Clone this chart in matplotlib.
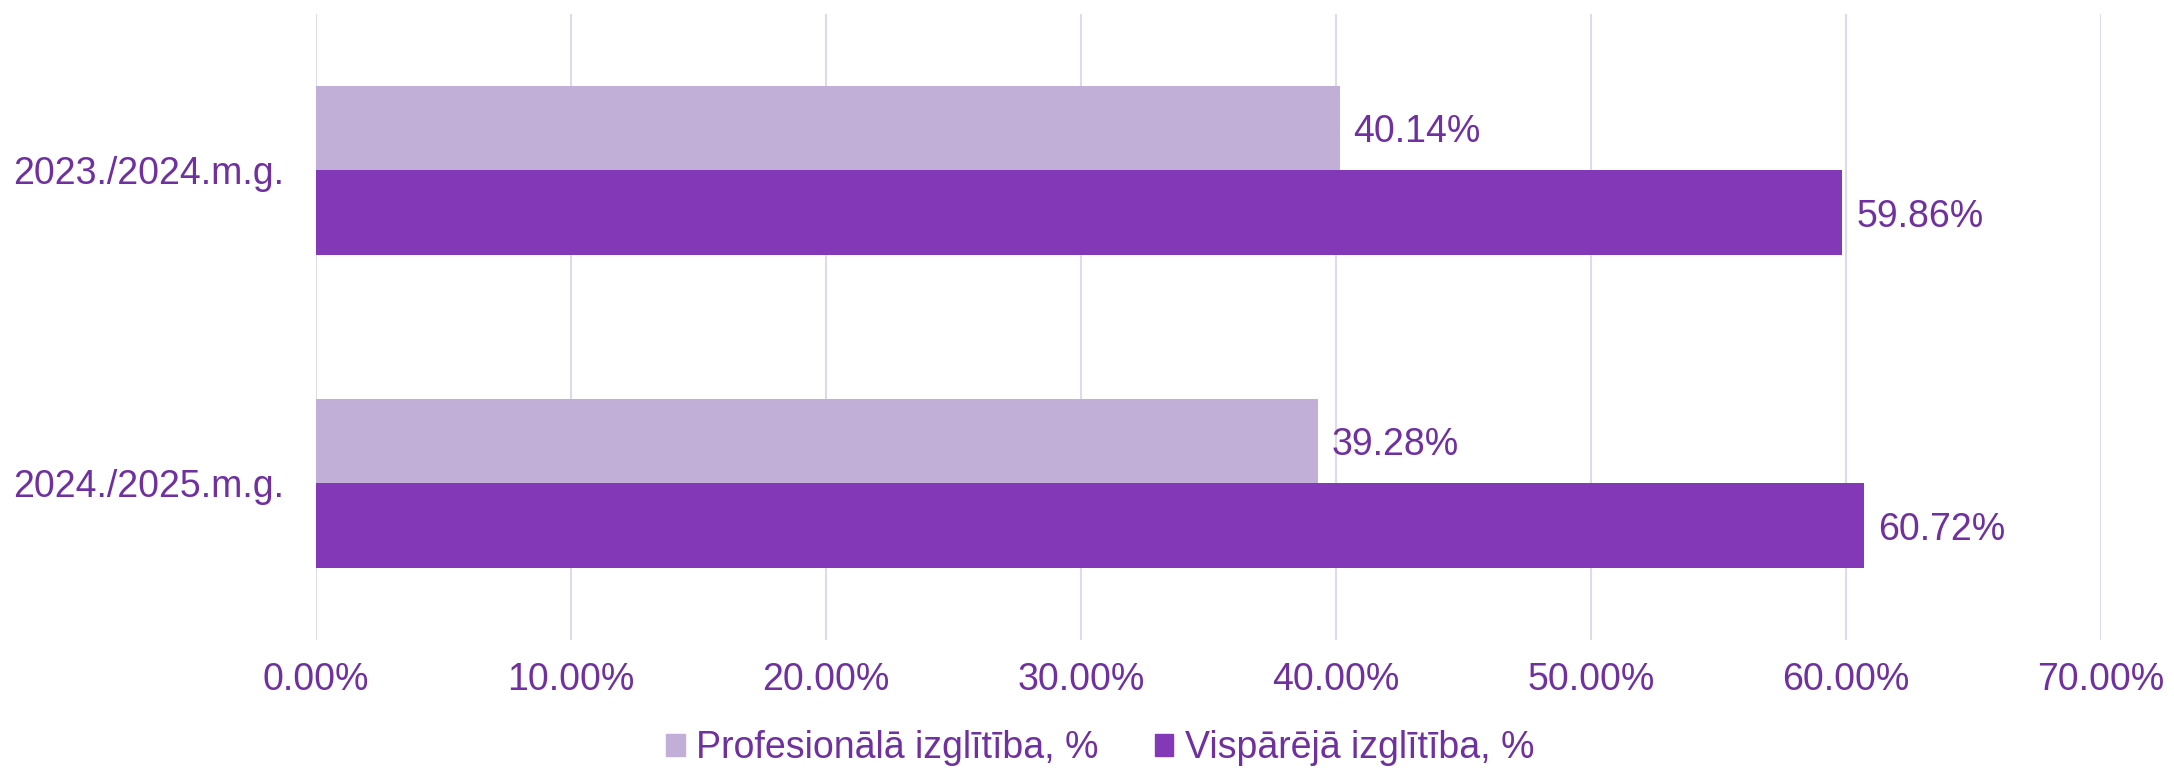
import matplotlib.pyplot as plt
from matplotlib.patches import Patch
import numpy as np

plt.rcParams['font.family'] = ['Liberation Sans', 'DejaVu Sans']

years = ["2023./2024.m.g.", "2024./2025.m.g."]
series_names = ["Profesionālā izglītība, %", "Vispārējā izglītība, %"]
prof = [40.14, 39.28]
visp = [59.86, 60.72]
xticks = [0, 10, 20, 30, 40, 50, 60, 70]

c_light = "#C1AFD7"
c_dark = "#8338B8"
c_text = "#7030A0"
c_grid = "#DEDAEC"
fs = 27

fig = plt.figure(figsize=(21.74, 7.7), dpi=100)
ax = fig.add_axes([0.1454, 0.169, 0.821, 0.813])

y = np.arange(len(years))
h = 0.27
b1 = ax.barh(y - h / 2, prof, height=h, color=c_light, zorder=2)
b2 = ax.barh(y + h / 2, visp, height=h, color=c_dark, zorder=2)

for bars, vals in ((b1, prof), (b2, visp)):
    for rect, v in zip(bars, vals):
        ax.annotate(f"{v:.2f}%", (v, rect.get_y() + rect.get_height() / 2),
                    xytext=(10, -3), textcoords="offset points",
                    ha="left", va="center", fontsize=fs, color=c_text)

ax.set_xlim(0, 70)
ax.set_ylim(1.5, -0.5)
ax.set_xticks(xticks)
ax.set_xticklabels([f"{t:.2f}%" for t in xticks])
ax.set_yticks(y)
ax.set_yticklabels(years)
ax.tick_params(axis="x", length=0, pad=16, labelsize=fs, labelcolor=c_text)
ax.tick_params(axis="y", length=0, pad=23, labelsize=fs, labelcolor=c_text)
ax.grid(axis="x", color=c_grid, linewidth=1.5, zorder=0)
for s in ax.spines.values():
    s.set_visible(False)

handles = [Patch(color=c_light), Patch(color=c_dark)]
fig.legend(handles, series_names, loc="center", bbox_to_anchor=(0.506, 0.028),
           ncol=2, frameon=False, fontsize=fs, labelcolor=c_text,
           handlelength=0.5, handleheight=0.5, handletextpad=0.3,
           columnspacing=1.5, borderpad=0)

fig.savefig("out.png", dpi=100)
